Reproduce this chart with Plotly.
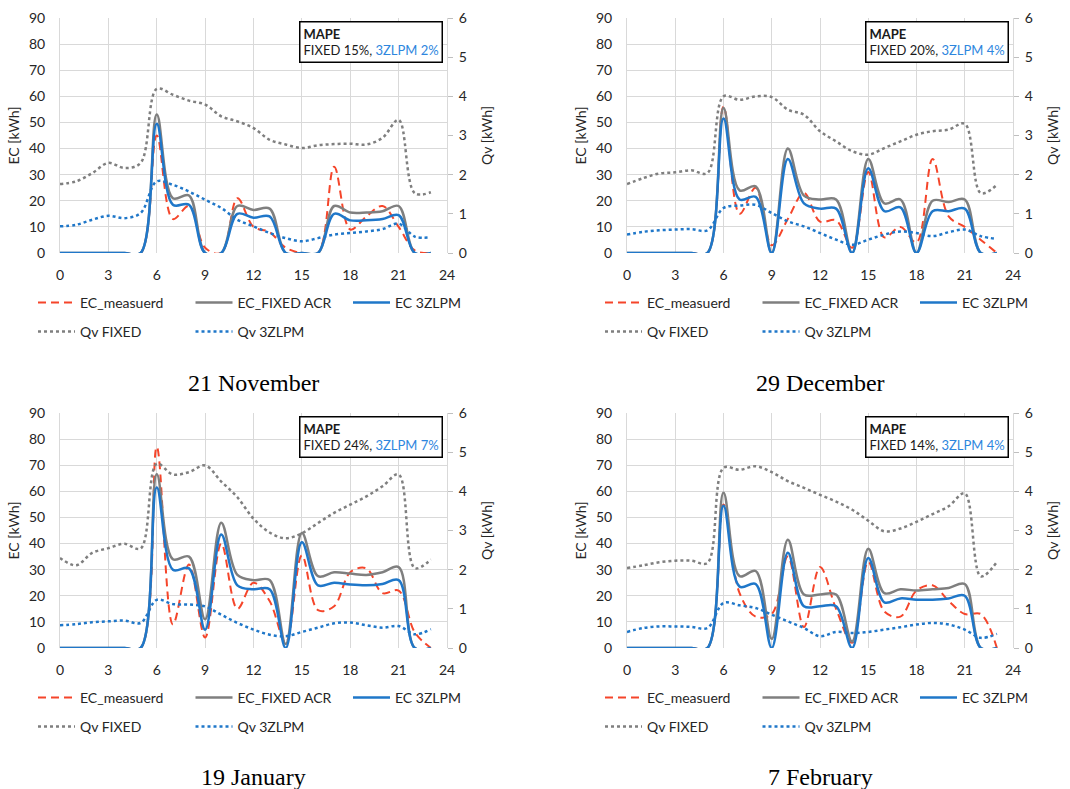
import plotly.graph_objects as go

hours = list(range(24))
x_ticks = [0, 3, 6, 9, 12, 15, 18, 21, 24]
panel_titles = ["21 November", "29 December", "19 January", "7 February"]
series_names = ["EC_measuerd", "EC_FIXED ACR", "EC 3ZLPM", "Qv FIXED", "Qv 3ZLPM"]
mape_fixed = ["15%", "20%", "24%", "14%"]
mape_3zlpm = ["2%", "4%", "7%", "4%"]

# 21 November
ec_measured_nov21 = [0, 0, 0, 0, 0, 0, 45, 13, 18, 2, 0, 21, 10, 8, 2, 0, 0, 33, 9, 14, 18, 10, 1, 0]
ec_fixed_nov21 = [0, 0, 0, 0, 0, 0, 53, 21, 22, 0, 0, 18, 16.5, 17, 0, 0, 0, 18, 15.5, 15.5, 16, 18, 0, 0]
ec_3zlpm_nov21 = [0, 0, 0, 0, 0, 0, 49.5, 18.5, 18.5, 0, 0, 15, 13.5, 14, 0, 0, 0, 15, 12.5, 12.5, 13, 14.5, 0, 0]
qv_fixed_nov21 = [1.76, 1.83, 2.04, 2.3, 2.17, 2.3, 4.19, 4.04, 3.89, 3.79, 3.49, 3.36, 3.19, 2.89, 2.77, 2.68,
                  2.75, 2.78, 2.79, 2.77, 2.94, 3.40, 1.53, 1.55]
qv_3zlpm_nov21 = [0.68, 0.72, 0.85, 0.95, 0.89, 1.02, 1.83, 1.74, 1.57, 1.36, 1.15, 0.85, 0.68, 0.51, 0.38, 0.30,
                  0.38, 0.47, 0.51, 0.55, 0.61, 0.75, 0.42, 0.40]

# 29 December
ec_measured_dec29 = [0, 0, 0, 0, 0, 0, 56, 15, 25, 3, 13, 23, 12, 12.5, 2, 31, 6, 10, 4, 36, 14, 10, 5, 0]
ec_fixed_dec29 = [0, 0, 0, 0, 0, 0, 55.5, 24, 25.5, 0, 40, 22, 20.5, 20.5, 0, 36, 19, 20.5, 0, 20, 19.5, 20.5, 0, 0]
ec_3zlpm_dec29 = [0, 0, 0, 0, 0, 0, 51.5, 20.5, 21.5, 0, 36, 19, 17, 17, 0, 32.5, 16, 17.5, 0, 16, 16, 17, 0, 0]
qv_fixed_dec29 = [1.76, 1.91, 2.03, 2.06, 2.11, 2.04, 4.0, 3.91, 4.0, 3.98, 3.66, 3.53, 3.11, 2.85, 2.6, 2.51,
                  2.68, 2.85, 3.02, 3.11, 3.15, 3.30, 1.53, 1.74]
qv_3zlpm_dec29 = [0.47, 0.54, 0.58, 0.6, 0.61, 0.58, 1.15, 1.21, 1.23, 1.02, 0.81, 0.68, 0.51, 0.34, 0.21, 0.34,
                  0.47, 0.55, 0.51, 0.43, 0.53, 0.6, 0.43, 0.36]

# 19 January
ec_measured_jan19 = [0, 0, 0, 0, 0, 0, 77, 9, 32, 4, 40, 15, 25, 18, 2, 35.5, 14.5, 16, 29, 30.5, 21, 22, 6, 0]
ec_fixed_jan19 = [0, 0, 0, 0, 0, 0, 66.5, 34, 35, 11, 48, 28, 26, 26, 1.5, 44, 27.5, 29, 28.5, 28, 29, 31, 0, 0]
ec_3zlpm_jan19 = [0, 0, 0, 0, 0, 0, 61.5, 30, 30.5, 7, 43.5, 24, 22.5, 22.5, 0, 40.5, 24, 25, 24.3, 24, 24.5, 26, 0, 0]
qv_fixed_jan19 = [2.3, 2.11, 2.43, 2.55, 2.66, 2.54, 4.70, 4.43, 4.49, 4.66, 4.25, 3.85, 3.3, 2.95, 2.8, 2.93,
                  3.19, 3.45, 3.66, 3.87, 4.13, 4.43, 2.04, 2.26]
qv_3zlpm_jan19 = [0.58, 0.61, 0.66, 0.68, 0.70, 0.64, 1.23, 1.12, 1.11, 1.06, 0.85, 0.64, 0.47, 0.34, 0.30, 0.41,
                  0.52, 0.63, 0.65, 0.58, 0.52, 0.56, 0.35, 0.48]

# 7 February
ec_measured_feb7 = [0, 0, 0, 0, 0, 0, 55, 21, 12, 13, 35, 8, 31, 15, 2, 33, 14, 12, 22, 24, 18, 13, 13, 0]
ec_fixed_feb7 = [0, 0, 0, 0, 0, 0, 59.5, 27.5, 29.5, 3.5, 41.5, 20.5, 20.5, 20.5, 2.5, 38, 21, 22.5, 22, 22.5, 23, 24.5, 0, 0]
ec_3zlpm_feb7 = [0, 0, 0, 0, 0, 0, 54.5, 23.5, 24.5, 0, 36.5, 16, 16, 16, 0, 34.5, 17.5, 19, 18.5, 18.5, 19, 20, 0, 0]
qv_fixed_feb7 = [2.04, 2.11, 2.19, 2.23, 2.23, 2.17, 4.6, 4.55, 4.64, 4.49, 4.26, 4.09, 3.91, 3.74, 3.53, 3.25,
                 2.98, 3.05, 3.22, 3.42, 3.62, 3.95, 1.83, 2.2]
qv_3zlpm_feb7 = [0.41, 0.51, 0.55, 0.55, 0.54, 0.51, 1.15, 1.09, 1.02, 0.85, 0.68, 0.51, 0.30, 0.41, 0.38, 0.41,
                 0.47, 0.53, 0.60, 0.64, 0.60, 0.47, 0.26, 0.36]

panels = [
    (ec_measured_nov21, ec_fixed_nov21, ec_3zlpm_nov21, qv_fixed_nov21, qv_3zlpm_nov21),
    (ec_measured_dec29, ec_fixed_dec29, ec_3zlpm_dec29, qv_fixed_dec29, qv_3zlpm_dec29),
    (ec_measured_jan19, ec_fixed_jan19, ec_3zlpm_jan19, qv_fixed_jan19, qv_3zlpm_jan19),
    (ec_measured_feb7, ec_fixed_feb7, ec_3zlpm_feb7, qv_fixed_feb7, qv_3zlpm_feb7),
]

W, H = 1070, 789
RED = "#F5452A"
GREY = "#7F7F7F"
BLUE = "#1F77C9"
BLUE_TXT = "#2E86DE"
GRID = "#D9D9D9"
FONT = "Lato"
TXT = "#262626"

# plot areas in pixels: (left, right, top, bottom)
areas = [(60, 447, 18, 253), (627, 1013, 18, 253), (60, 447, 413, 648), (627, 1013, 413, 648)]
legend_rows = [(303, 332), (303, 332), (698, 727), (698, 727)]
title_y = [383, 383, 777, 777]

fig = go.Figure()
layout = dict(width=W, height=H, margin=dict(l=0, r=0, t=0, b=0, autoexpand=False),
              paper_bgcolor="white", plot_bgcolor="white",
              font=dict(family=FONT, size=14, color=TXT), annotations=[])

styles = [
    dict(color=RED, width=2, dash="8px,5px"),
    dict(color=GREY, width=2.5),
    dict(color=BLUE, width=2.5),
    dict(color=GREY, width=2.5, dash="dot"),
    dict(color=BLUE, width=2.5, dash="dot"),
]

for i, (data, (l, r, t, b)) in enumerate(zip(panels, areas)):
    xn = "" if i == 0 else str(i + 1)
    yl = "" if i == 0 else str(2 * i + 1)
    yr = str(2 * i + 2)
    leg_ec = "legend" if i == 0 else f"legend{2 * i + 1}"
    leg_qv = f"legend{2 * i + 2}"
    for k in range(5):
        on_right = k >= 3
        fig.add_trace(go.Scatter(
            x=hours, y=data[k], name=series_names[k], mode="lines",
            line=dict(shape="spline", smoothing=1, **styles[k]),
            xaxis="x" + xn, yaxis="y" + (yr if on_right else yl),
            legend=leg_qv if on_right else leg_ec, showlegend=True,
        ))
    xd = [l / W, r / W]
    yd = [1 - b / H, 1 - t / H]
    layout["xaxis" + xn] = dict(domain=xd, range=[0, 24], tickvals=x_ticks, showgrid=True,
                                gridcolor=GRID, gridwidth=1, zeroline=False, showline=False,
                                ticks="", ticklabelstandoff=12, tickfont=dict(size=14, color=TXT),
                                anchor="y" + yl, fixedrange=True, automargin=False)
    layout["yaxis" + yl] = dict(domain=yd, range=[0, 90], dtick=10, showgrid=True, gridcolor=GRID,
                                gridwidth=1, zeroline=False, showline=True, linecolor=GRID,
                                ticks="", ticklabelstandoff=11, tickfont=dict(size=14, color=TXT),
                                title=dict(text="EC [kWh]", font=dict(size=14, color=TXT), standoff=6),
                                anchor="x" + xn, fixedrange=True, automargin=False)
    layout["yaxis" + yr] = dict(domain=yd, range=[0, 6], dtick=1, overlaying="y" + yl, side="right",
                                showgrid=False, zeroline=False, showline=True, linecolor=GRID,
                                ticks="outside", ticklen=5, tickcolor="#BFBFBF",
                                ticklabelstandoff=3, tickfont=dict(size=14, color=TXT),
                                title=dict(text="Qv [kWh]", font=dict(size=14, color=TXT), standoff=16),
                                anchor="x" + xn, fixedrange=True, automargin=False)
    r1, r2 = legend_rows[i]
    for leg, ry in ((leg_ec, r1), (leg_qv, r2)):
        layout[leg] = dict(orientation="h", x=(l - 27) / W, xanchor="left", y=1 - ry / H,
                           yanchor="middle", entrywidth=105.5, entrywidthmode="pixels",
                           bgcolor="rgba(0,0,0,0)", font=dict(family=FONT, size=14, color=TXT),
                           itemwidth=37, tracegroupgap=0)
    layout["annotations"].append(dict(
        xref="paper", yref="paper", x=(r - 4) / W, y=1 - (t + 3) / H, xanchor="right", yanchor="top",
        text=f"<b>MAPE</b><br>FIXED {mape_fixed[i]}, <span style='color:{BLUE_TXT}'>3ZLPM {mape_3zlpm[i]}</span>",
        align="left", showarrow=False, bordercolor="#000000", borderwidth=1.5, borderpad=3,
        bgcolor="white", font=dict(family=FONT, size=13, color="#1a1a1a")))
    layout["annotations"].append(dict(
        xref="paper", yref="paper", x=(l + r) / 2 / W, y=1 - title_y[i] / H, xanchor="center",
        yanchor="middle", text=panel_titles[i], showarrow=False,
        font=dict(family="Liberation Serif", size=24, color="#000000")))

fig.update_layout(**layout)
fig.write_html("out.html", config={"displayModeBar": False},
               post_script="document.body.style.margin='0';document.body.style.overflow='hidden';")
